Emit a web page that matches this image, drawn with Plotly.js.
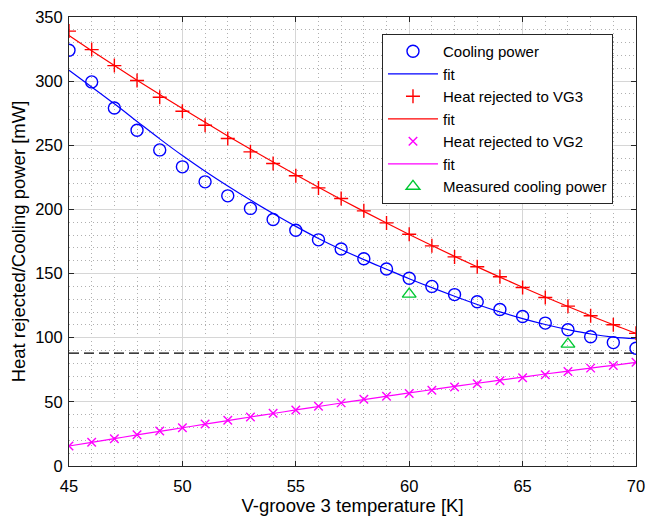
<!DOCTYPE html>
<html>
<head>
<meta charset="utf-8">
<script src="https://cdn.plot.ly/plotly-3.0.1.min.js"></script>
<style>html,body{margin:0;padding:0;background:#fff;}#chart{width:648px;height:520px;}</style>
</head>
<body>
<div id="chart"></div>
<script>
const temps = [45,46,47,48,49,50,51,52,53,54,55,56,57,58,59,60,61,62,63,64,65,66,67,68,69,70];
const coolingPower = [324.1,299.4,279.1,261.7,246.4,233.2,221.5,210.6,200.8,192.2,183.8,176.3,169.2,161.6,153.6,146.4,140.0,133.6,128.0,122.0,116.5,111.4,106.2,100.7,96.2,91.8];
const coolingFit = [308.5,295.5,282.3,268.6,255.0,242.0,229.8,218.3,207.3,196.8,186.8,177.4,168.8,160.9,153.4,146.0,139.0,132.3,125.9,120.1,114.9,110.3,106.3,102.9,100.5,99.2];
const heatVG3 = [339.0,324.6,312.1,300.5,287.5,276.5,265.6,255.3,244.9,235.8,226.2,216.8,208.5,198.9,189.5,180.6,171.6,163.0,155.3,147.5,139.2,131.4,124.6,117.1,110.1,103.4];
const heatVG3Fit = [335.5,323.7,312.1,300.7,289.6,278.6,267.9,257.3,247.0,236.9,227.0,217.3,207.8,198.5,189.4,180.5,171.9,163.4,155.2,147.2,139.3,131.7,124.3,117.1,110.1,103.4];
const heatVG2 = [15.6,18.5,21.3,24.4,27.3,29.8,32.7,35.6,38.2,41.1,43.6,46.5,49.2,52.0,54.3,56.6,59.0,61.5,64.1,66.4,68.8,71.1,73.7,76.3,78.4,80.8];
const heatVG2Fit = [15.6,18.4,21.3,24.2,27.0,29.8,32.6,35.4,38.2,40.9,43.7,46.4,49.1,51.8,54.4,57.0,59.5,62.0,64.5,66.9,69.3,71.7,74.0,76.3,78.5,80.8];
const measuredT = [60, 67];
const measuredPower = [134, 95];
const thresholdT = [45, 70];
const thresholdPower = [88, 88];
const xTicks = [45,50,55,60,65,70];
const yTicks = [0,50,100,150,200,250,300,350];

const BLUE = '#0000ff', RED = '#ff0000', MAG = '#ff00ff', GREEN = '#00c832';
const FONT = 'Liberation Sans, Arial, sans-serif';

const traces = [
  {x: thresholdT, y: thresholdPower, mode: 'lines', showlegend: false, hoverinfo: 'skip',
   line: {color: '#000', width: 1.2, dash: '10px,5px'}},
  {x: temps, y: coolingPower, mode: 'markers', name: 'Cooling power',
   marker: {symbol: 'circle-open', size: 12, color: BLUE, line: {width: 1.4, color: BLUE}}},
  {x: temps, y: coolingFit, mode: 'lines', name: 'fit', line: {color: BLUE, width: 1.2, shape: 'spline'}},
  {x: temps, y: heatVG3, mode: 'markers', name: 'Heat rejected to VG3',
   marker: {symbol: 'cross-thin-open', size: 10, color: RED, line: {width: 1.4, color: RED}}},
  {x: temps, y: heatVG3Fit, mode: 'lines', name: 'fit', line: {color: RED, width: 1.2, shape: 'spline'}},
  {x: temps, y: heatVG2, mode: 'markers', name: 'Heat rejected to VG2',
   marker: {symbol: 'x-thin-open', size: 8.5, color: MAG, line: {width: 1.4, color: MAG}}},
  {x: temps, y: heatVG2Fit, mode: 'lines', name: 'fit', line: {color: MAG, width: 1.2, shape: 'spline'}},
  {x: measuredT, y: measuredPower, mode: 'markers', name: 'Measured cooling power',
   marker: {symbol: 'triangle-up-open', size: 12, color: GREEN, line: {width: 1.4, color: GREEN}}}
];

const axisCommon = {
  showline: true, linecolor: '#262626', linewidth: 1, mirror: 'ticks',
  ticks: 'inside', ticklen: 5, tickcolor: '#262626', tickwidth: 1,
  showgrid: true, gridcolor: '#d6d6d6', gridwidth: 1, zeroline: false,
  tickfont: {family: FONT, size: 16.5, color: '#000'},
};

const layout = {
  width: 648, height: 520,
  margin: {l: 69, r: 12, t: 17, b: 54},
  paper_bgcolor: '#fff', plot_bgcolor: '#fff',
  showlegend: true,
  xaxis: Object.assign({}, axisCommon, {
    range: [45, 70], tickvals: xTicks, ticktext: xTicks.map(String),
    ticklabelstandoff: 5,
    minor: {dtick: 1, tick0: 45, showgrid: true, gridcolor: '#b0b0b0', griddash: '1px,3px', gridwidth: 1, ticks: ''},
    title: {text: 'V-groove 3 temperature [K]', font: {family: FONT, size: 18.5, color: '#000'}, standoff: 2}
  }),
  yaxis: Object.assign({}, axisCommon, {
    range: [0, 350], tickvals: yTicks, ticktext: yTicks.map(String),
    ticklabelstandoff: 2,
    minor: {dtick: 10, tick0: 0, showgrid: true, gridcolor: '#b0b0b0', griddash: '1px,3px', gridwidth: 1, ticks: ''},
    title: {text: 'Heat rejected/Cooling power [mW]', font: {family: FONT, size: 18.5, color: '#000'}, standoff: 4}
  }),
  legend: {
    x: 0.552, y: 0.962, xanchor: 'left', yanchor: 'top',
    bgcolor: '#fff', bordercolor: '#262626', borderwidth: 1,
    font: {family: FONT, size: 15, color: '#000'},
    tracegroupgap: 0, itemwidth: 50
  }
};

Plotly.newPlot('chart', traces, layout, {displayModeBar: false, staticPlot: true});
</script>
</body>
</html>
